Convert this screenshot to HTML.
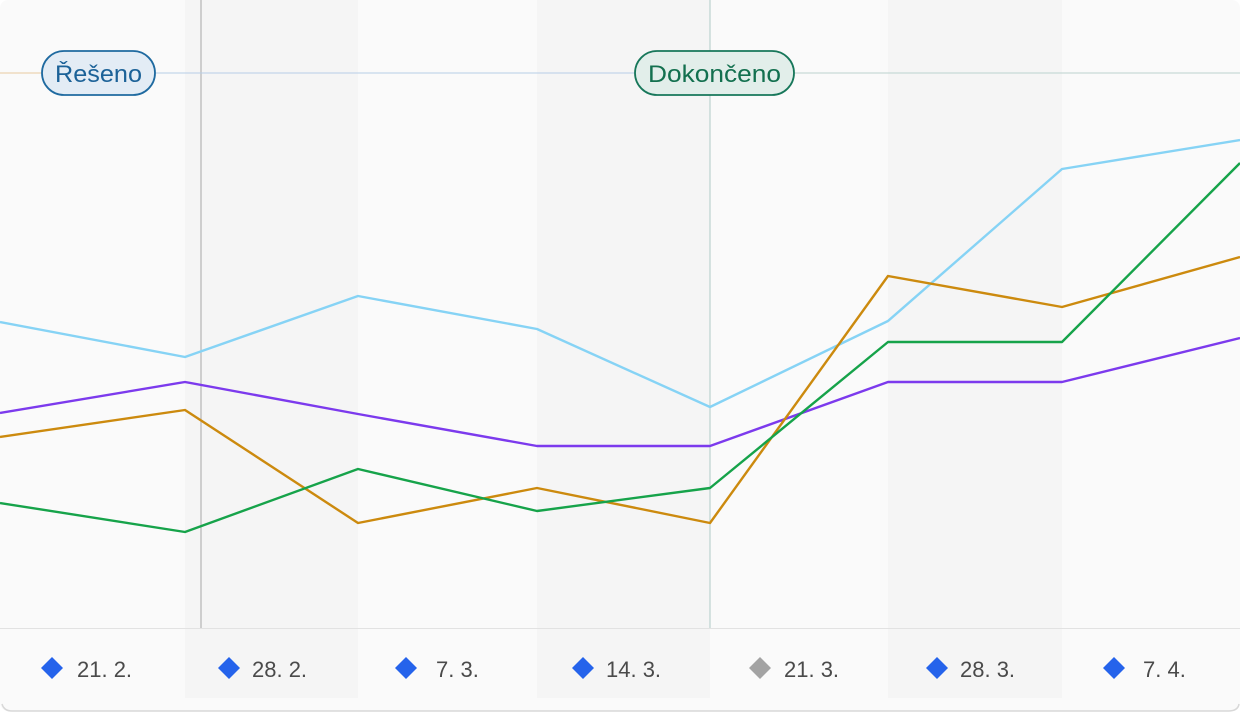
<!DOCTYPE html>
<html><head><meta charset="utf-8"><style>
html,body{margin:0;padding:0;background:#fff;}
svg{display:block;font-family:"Liberation Sans",sans-serif;}
</style></head><body>
<svg width="1240" height="713" viewBox="0 0 1240 713">
<rect x="0" y="0" width="1240" height="711" rx="8" fill="#fafafa"/>
<g fill="#f5f5f5">
<rect x="185" y="0" width="173" height="698"/>
<rect x="537" y="0" width="173" height="698"/>
<rect x="888" y="0" width="174" height="698"/>
</g>
<line x1="0" y1="628.5" x2="1240" y2="628.5" stroke="#e2e2e2"/>
<path d="M2 704 Q4 711 12 711 L1228 711 Q1238 711 1239 704" fill="none" stroke="#d8d8d8" stroke-width="1.5"/>
<line x1="201" y1="0" x2="201" y2="628" stroke="#b5b5b5" stroke-width="1.2"/>
<line x1="710" y1="0" x2="710" y2="628" stroke="#bcd3cf" stroke-width="1.2"/>
<line x1="0" y1="73" x2="42" y2="73" stroke="#e8c9a0"/>
<line x1="155" y1="73" x2="636" y2="73" stroke="#b7cde6"/>
<line x1="794" y1="73" x2="1240" y2="73" stroke="#bcd3cf"/>
<rect x="42" y="51" width="113" height="44" rx="22" fill="#e3ecf5" stroke="#1f6aa0" stroke-width="1.8"/>
<text x="55" y="82" font-size="24" fill="#1c6298" textLength="87" lengthAdjust="spacingAndGlyphs">Řešeno</text>
<rect x="635" y="51" width="159" height="44" rx="22" fill="#e2eeea" stroke="#17775a" stroke-width="1.8"/>
<text x="648" y="82" font-size="24" fill="#13704f" textLength="133" lengthAdjust="spacingAndGlyphs">Dokončeno</text>
<g fill="none" stroke-width="2.4" stroke-linejoin="round">
<polyline stroke="#86d3f5" points="0,322 185,357 358,296 537,329 710,407 888,321 1062,169 1240,140"/>
<polyline stroke="#7c3aed" points="0,413 185,382 358,414 537,446 710,446 888,382 1062,382 1240,338"/>
<polyline stroke="#cc8a0e" points="0,437 185,410 358,523 537,488 710,523 888,276 1062,307 1240,257"/>
<polyline stroke="#16a34a" points="0,503 185,532 358,469 537,511 710,488 888,342 1062,342 1240,163"/>
</g>
<g font-size="22" fill="#4a4a4a">
<path d="M52 657 L63 668 L52 679 L41 668Z" fill="#2563eb"/><text x="77" y="677">21. 2.</text>
<path d="M229 657 L240 668 L229 679 L218 668Z" fill="#2563eb"/><text x="252" y="677">28. 2.</text>
<path d="M406 657 L417 668 L406 679 L395 668Z" fill="#2563eb"/><text x="436" y="677">7. 3.</text>
<path d="M583 657 L594 668 L583 679 L572 668Z" fill="#2563eb"/><text x="606" y="677">14. 3.</text>
<path d="M760 657 L771 668 L760 679 L749 668Z" fill="#a3a3a3"/><text x="784" y="677">21. 3.</text>
<path d="M937 657 L948 668 L937 679 L926 668Z" fill="#2563eb"/><text x="960" y="677">28. 3.</text>
<path d="M1114 657 L1125 668 L1114 679 L1103 668Z" fill="#2563eb"/><text x="1143" y="677">7. 4.</text>
</g>
</svg>
</body></html>
